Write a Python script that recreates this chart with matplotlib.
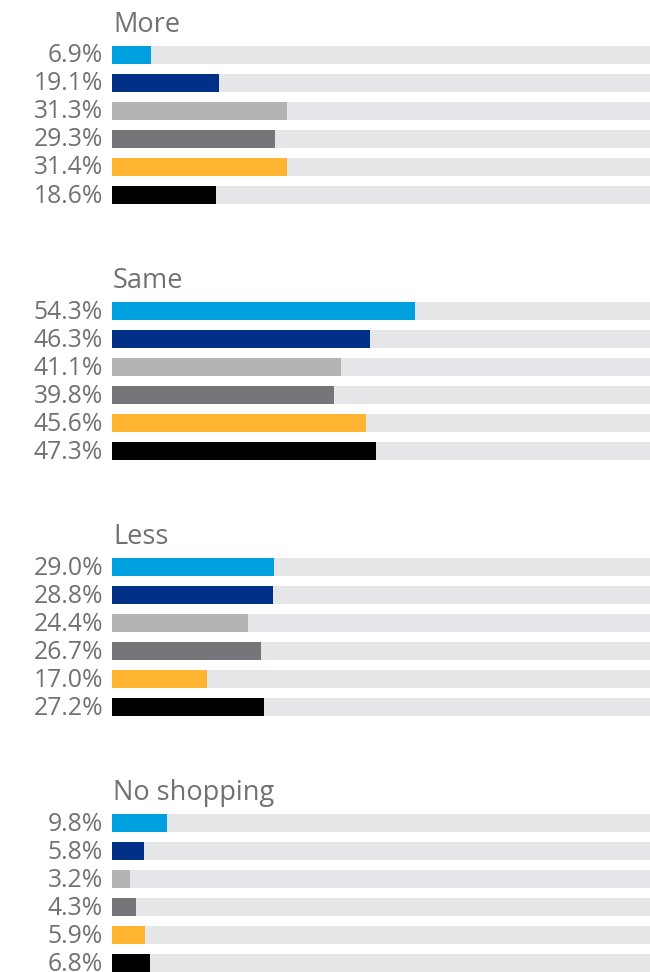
import matplotlib.pyplot as plt

groups = ["More", "Same", "Less", "No shopping"]
more = [6.9, 19.1, 31.3, 29.3, 31.4, 18.6]
same = [54.3, 46.3, 41.1, 39.8, 45.6, 47.3]
less = [29.0, 28.8, 24.4, 26.7, 17.0, 27.2]
no_shopping = [9.8, 5.8, 3.2, 4.3, 5.9, 6.8]
series_colors = ["#009fdf", "#003087", "#b3b3b4", "#75767a", "#ffb531", "#000000"]

TRACK = "#e5e6e8"
TEXT = "#707174"
FONT = ["Open Sans", "DejaVu Sans"]

W, H = 650, 972
fig = plt.figure(figsize=(W / 100, H / 100), dpi=100)
# axes from bar start (x=112px) to right edge; y in pixel rows, top = 0
ax = fig.add_axes([112 / W, 0, 538 / W, 1])
ax.set_xlim(0, 538 / 5.58)
ax.set_ylim(H, 0)
ax.axis("off")

first_row = 55
row_gap = 28
group_gap = 256
bar_h = 18

for gi, (name, vals) in enumerate(zip(groups, [more, same, less, no_shopping])):
    y0 = first_row + gi * group_gap
    ys = [y0 + i * row_gap for i in range(len(vals))]
    ax.barh(ys, [100] * len(vals), height=bar_h, color=TRACK, clip_on=True)
    ax.barh(ys, vals, height=bar_h, color=series_colors, clip_on=True)
    for y, v in zip(ys, vals):
        ax.annotate(f"{v:.1f}%", xy=(0, y), xytext=(-9, -1), textcoords="offset pixels",
                    ha="right", va="center", fontsize=17.8, color=TEXT,
                    family=FONT, annotation_clip=False)
    ax.annotate(name, xy=(0, y0 - 30), xytext=(1, 0), textcoords="offset pixels",
                ha="left", va="center", fontsize=19.5, color=TEXT,
                family=FONT, annotation_clip=False)

fig.savefig("out.png", dpi=100)
